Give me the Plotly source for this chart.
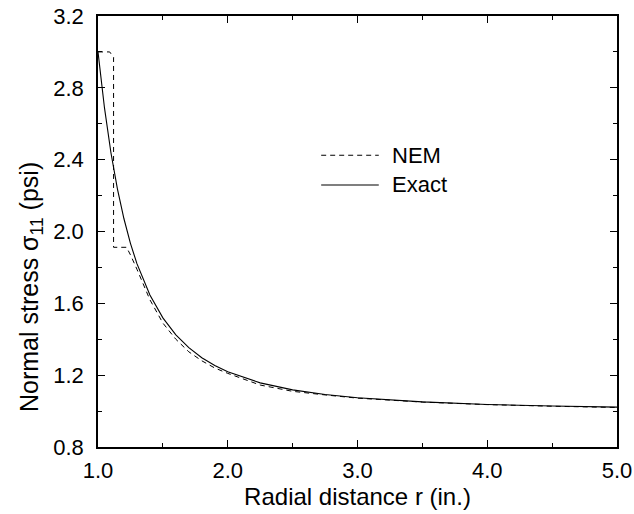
import plotly.graph_objects as go

# Exact solution
r_exact = [1.0, 1.05, 1.1, 1.15, 1.2, 1.25, 1.3, 1.4, 1.5, 1.6, 1.7, 1.8, 1.9,
           2.0, 2.25, 2.5, 2.75, 3.0, 3.5, 4.0, 4.5, 5.0]
s_exact = [3.0, 2.688, 2.437, 2.236, 2.071, 1.934, 1.821, 1.646, 1.519, 1.424,
           1.353, 1.297, 1.254, 1.219, 1.157, 1.118, 1.092, 1.074, 1.051, 1.037,
           1.028, 1.022]

# NEM solution
r_nem = [1.0, 1.09, 1.12, 1.12, 1.22, 1.25, 1.3, 1.4, 1.5, 1.6, 1.7, 1.8, 1.9,
         2.0, 2.25, 2.5, 2.75, 3.0, 3.5, 4.0, 4.5, 5.0]
s_nem = [3.0, 3.0, 2.97, 1.912, 1.912, 1.87, 1.79, 1.62, 1.49, 1.40, 1.33,
         1.28, 1.24, 1.21, 1.145, 1.11, 1.09, 1.072, 1.05, 1.036, 1.027, 1.02]

x_ticks = [1.0, 2.0, 3.0, 4.0, 5.0]
x_tick_labels = ["1.0", "2.0", "3.0", "4.0", "5.0"]
y_ticks = [0.8, 1.2, 1.6, 2.0, 2.4, 2.8, 3.2]
y_tick_labels = ["0.8", "1.2", "1.6", "2.0", "2.4", "2.8", "3.2"]

legend_names = ["NEM", "Exact"]
x_title = "Radial distance r (in.)"
y_title = "Normal stress σ<sub>11</sub> (psi)"

FONT = "Liberation Sans, Arial, Helvetica, sans-serif"

fig = go.Figure()
fig.add_trace(go.Scatter(x=r_nem, y=s_nem, mode="lines", name=legend_names[0],
                         line=dict(color="black", width=1, dash="5px,4px")))
fig.add_trace(go.Scatter(x=r_exact, y=s_exact, mode="lines", name=legend_names[1],
                         line=dict(color="black", width=1.1)))

# manual legend
leg_y = [0.677, 0.608]
for name, yy, dash in zip(legend_names, leg_y, ["5px,4px", "solid"]):
    fig.add_shape(type="line", xref="paper", yref="paper",
                  x0=0.43, x1=0.541, y0=yy, y1=yy,
                  line=dict(color="black", width=1.1, dash=dash))
    fig.add_annotation(xref="paper", yref="paper", x=0.562, y=yy, text=name,
                       showarrow=False, xanchor="left", yanchor="middle",
                       font=dict(family=FONT, size=22, color="black"))

# y-axis title (placed as rotated text, offset like the reference)
fig.add_annotation(xref="paper", yref="paper", x=-0.13, y=0.37, text=y_title,
                   textangle=-90, showarrow=False, xanchor="center", yanchor="middle",
                   font=dict(family=FONT, size=25, color="black"))

axis_common = dict(
    showline=True, linecolor="black", linewidth=1.5, mirror="ticks",
    ticks="inside", ticklen=7, tickwidth=1.3, tickcolor="black",
    showgrid=False, zeroline=False, automargin=False,
    tickfont=dict(family=FONT, size=22, color="black"),
)

fig.update_xaxes(range=[1.0, 5.0], tickvals=x_ticks, ticktext=x_tick_labels,
                 ticklabelstandoff=3,
                 minor=dict(ticks="inside", ticklen=4, tickwidth=1, tickcolor="black",
                            dtick=0.5, tick0=1.0, showgrid=False),
                 title=dict(text=x_title, standoff=5,
                            font=dict(family=FONT, size=24, color="black")),
                 **axis_common)
fig.update_yaxes(range=[0.8, 3.2], tickvals=y_ticks, ticktext=y_tick_labels,
                 ticklabelstandoff=8,
                 minor=dict(ticks="inside", ticklen=4, tickwidth=1, tickcolor="black",
                            dtick=0.2, tick0=0.8, showgrid=False),
                 **axis_common)

fig.update_layout(
    width=634, height=514,
    margin=dict(l=98, r=17, t=16, b=67),
    plot_bgcolor="white", paper_bgcolor="white",
    showlegend=False,
    font=dict(family=FONT, size=22, color="black"),
)

fig.write_html("out.html", config={"displayModeBar": False},
               post_script="document.body.style.margin='0';document.body.style.overflow='hidden';")
